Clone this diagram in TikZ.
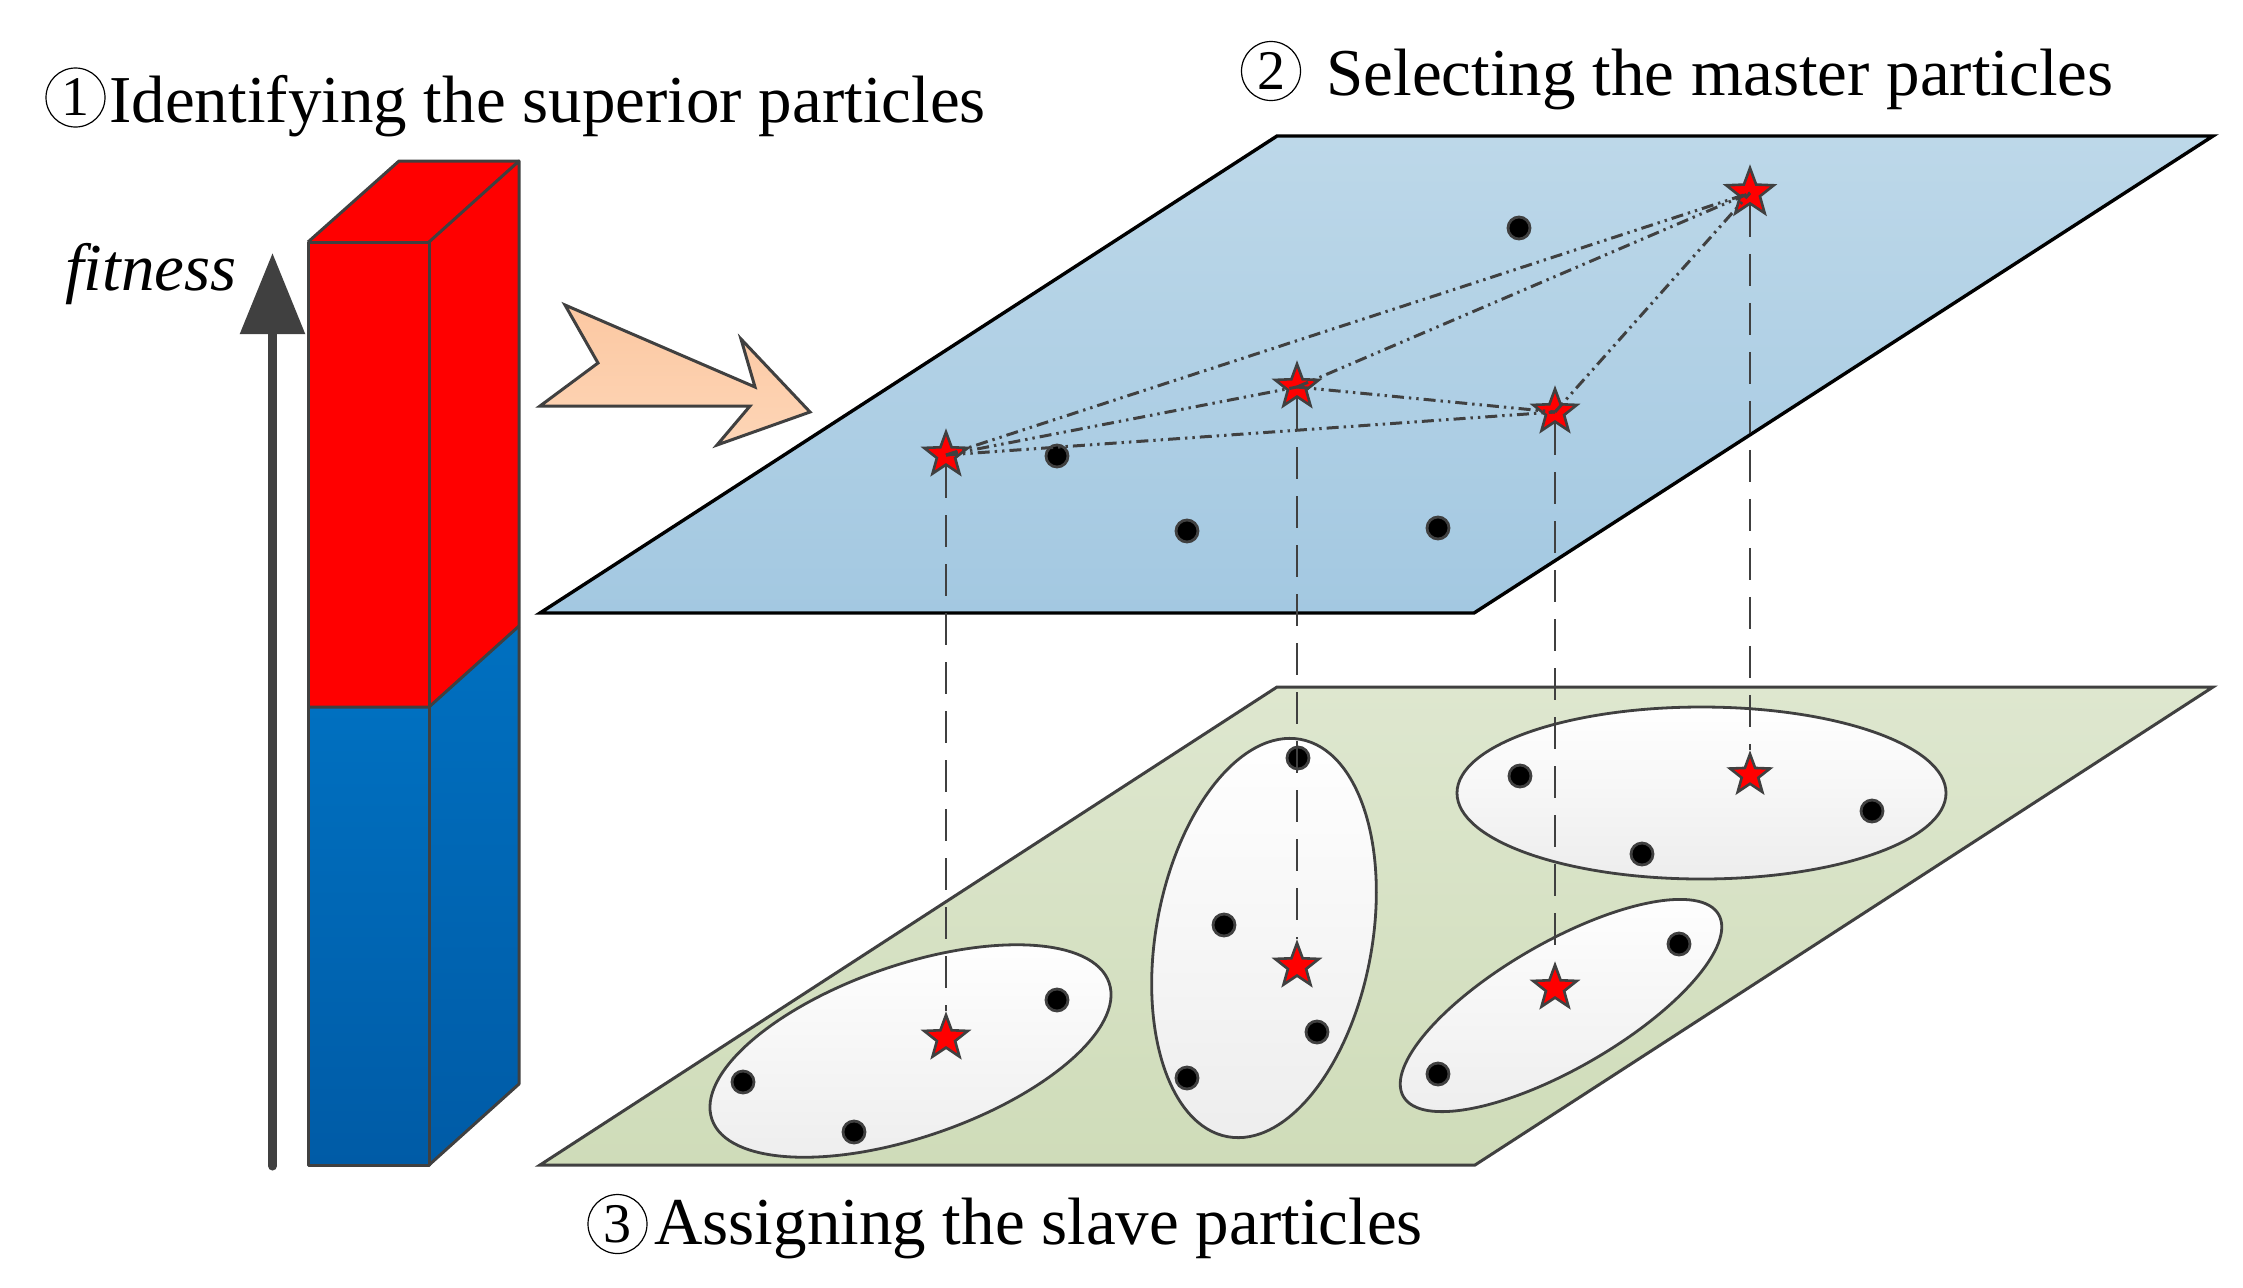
\documentclass[tikz,border=0pt]{standalone}
\usepackage{fontspec}
\setmainfont{Liberation Serif}
\usetikzlibrary{shapes.geometric,arrows.meta}
\definecolor{dk}{HTML}{404040}
\definecolor{boxred}{HTML}{FF0000}
\definecolor{blueT}{HTML}{0070C0}
\definecolor{blueB}{HTML}{005BA6}
\definecolor{planeBT}{HTML}{BDD8E9}
\definecolor{planeBB}{HTML}{A3C8E1}
\definecolor{planeGT}{HTML}{DEE7CF}
\definecolor{planeGB}{HTML}{CFDCB9}
\definecolor{peachT}{HTML}{FCC8A2}
\definecolor{peachB}{HTML}{FDD5B6}
\definecolor{ellB}{HTML}{EDEDED}
\begin{document}
\begin{tikzpicture}[x=0.5pt,y=-0.5pt,
  boxline/.style={draw=dk, line width=1.5pt, line join=round},
  lbl/.style={inner sep=0pt, font=\fontsize{33.5}{40}\selectfont},
  cnum/.style={circle, draw=black, line width=0.6pt, minimum size=29.5pt, inner sep=0pt, font=\fontsize{28}{28}\selectfont},
  mstar/.style={star, star points=5, star point ratio=2.4, fill=red, draw=dk, line width=1.3pt, inner sep=0pt, minimum size=23pt},
  pdot/.style={circle, fill=black, draw=dk, line width=1.4pt, inner sep=0pt, minimum size=11pt},
  clus/.style={draw=dk, line width=1.4pt, top color=white, bottom color=ellB},
  link/.style={draw=dk, line width=1.5pt, dash pattern=on 6pt off 2.5pt on 1.2pt off 2.5pt on 1.2pt off 2.5pt},
  vlink/.style={draw=dk, line width=1.3pt, dash pattern=on 16pt off 8.5pt}]
\useasboundingbox (0,0) rectangle (2243,1287);
\fill[white] (0,0) rectangle (2243,1287);

% ---------- titles ----------
\node[cnum] (c1) at (75.5,97.5) {1};
\node[lbl, anchor=base west] (s1) at (109,122) {Identifying the superior particles};
\node[cnum] (c2) at (1271,71) {2};
\node[lbl, anchor=base west] (s2) at (1326,95) {Selecting the master particles};
\node[cnum] (c3) at (617.5,1224) {3};
\node[lbl, anchor=base west] (s3) at (654,1244) {Assigning the slave particles};
\node[lbl, anchor=base east, font=\fontsize{33.5}{40}\selectfont\itshape] (fit) at (237,290) {fitness};

% ---------- fitness arrow ----------
\coordinate (fb) at (272.5,1166);
\coordinate (ft) at (272.5,253);
\draw[dk, line width=4.5pt, line cap=round, -{Triangle[length=40.5pt,width=31.5pt]}] (fb) -- (ft);

% ---------- bar ----------
\fill[boxred] (308,242) rectangle (429,707);
\shade[top color=blueT, bottom color=blueB] (308,707) rectangle (429,1165);
\fill[boxred] (429,242) -- (519,161) -- (519,626) -- (429,707) -- cycle;
\shade[top color=blueT, bottom color=blueB] (429,707) -- (519,626) -- (519,1084) -- (429,1165) -- cycle;
\fill[boxred] (308,242) -- (399,161) -- (519,161) -- (429,242) -- cycle;
\draw[boxline] (308,242) rectangle (429,1165);
\draw[boxline] (429,242) -- (519,161) -- (519,1084) -- (429,1165);
\draw[boxline] (308,242) -- (399,161) -- (519,161);
\draw[boxline] (308,707) -- (429,707) -- (519,626);

% ---------- peach arrow ----------
\draw[draw=dk, line width=1.5pt, line join=miter, top color=peachT, bottom color=peachB]
  (565,305) -- (755,387) -- (741,339) -- (810,412) -- (717,445) -- (750,406) -- (540,406) -- (598,363) -- cycle;

% ---------- upper plane ----------
\draw[draw=black, line width=1.7pt, line join=miter, top color=planeBT, bottom color=planeBB]
  (1277,136) -- (2213,136) -- (1474,613) -- (540,613) -- cycle;

\node[pdot] (u1) at (1519,228) {};
\node[pdot] (u2) at (1057,456) {};
\node[pdot] (u3) at (1187,531) {};
\node[pdot] (u4) at (1438,528) {};

\node[mstar] (t1) at (946,455) {};
\node[mstar] (t2) at (1297,387) {};
\node[mstar] (t3) at (1555,412) {};
\node[mstar, minimum size=25pt] (t4) at (1750,193) {};

\draw[link] (t1.center) -- (t4.center);
\draw[link] (t1.center) -- (t2.center);
\draw[link] (t1.center) -- (t3.center);
\draw[link] (t2.center) -- (t4.center);
\draw[link] (t2.center) -- (t3.center);
\draw[link] (t3.center) -- (t4.center);

% ---------- lower plane ----------
\draw[draw=dk, line width=1.5pt, line join=miter, top color=planeGT, bottom color=planeGB]
  (1277,687) -- (2213,687) -- (1475,1165) -- (540,1165) -- cycle;

\begin{scope}[shift={(910.5,1051)}, rotate=19]
  \draw[clus] (0,0) ellipse [x radius=210, y radius=86];
\end{scope}
\begin{scope}[shift={(1264,938)}, rotate=79.6]
  \draw[clus] (0,0) ellipse [x radius=202, y radius=108];
\end{scope}
\begin{scope}[shift={(1561,1005.5)}, rotate=30]
  \draw[clus] (0,0) ellipse [x radius=182, y radius=63];
\end{scope}
\draw[clus] (1701.5,793) ellipse [x radius=244.5, y radius=86];

\node[pdot] (d1) at (743,1082) {};
\node[pdot] (d2) at (854,1132) {};
\node[pdot] (d3) at (1057,1000) {};
\node[pdot] (d4) at (1298,758) {};
\node[pdot] (d5) at (1224,925) {};
\node[pdot] (d6) at (1317,1032) {};
\node[pdot] (d7) at (1187,1078) {};
\node[pdot] (d8) at (1679,944) {};
\node[pdot] (d9) at (1438,1074) {};
\node[pdot] (d10) at (1520,776) {};
\node[pdot] (d11) at (1872,811) {};
\node[pdot] (d12) at (1642,854) {};

\node[mstar] (b1) at (946,1038) {};
\node[mstar] (b2) at (1297,966) {};
\node[mstar] (b3) at (1555,988) {};
\node[mstar, minimum size=21pt] (b4) at (1750,775) {};

% ---------- projections ----------
\draw[vlink] (t1) -- (b1);
\draw[vlink] (t2) -- (b2);
\draw[vlink] (t3) -- (b3);
\draw[vlink] (t4) -- (b4);
\end{tikzpicture}
\end{document}
